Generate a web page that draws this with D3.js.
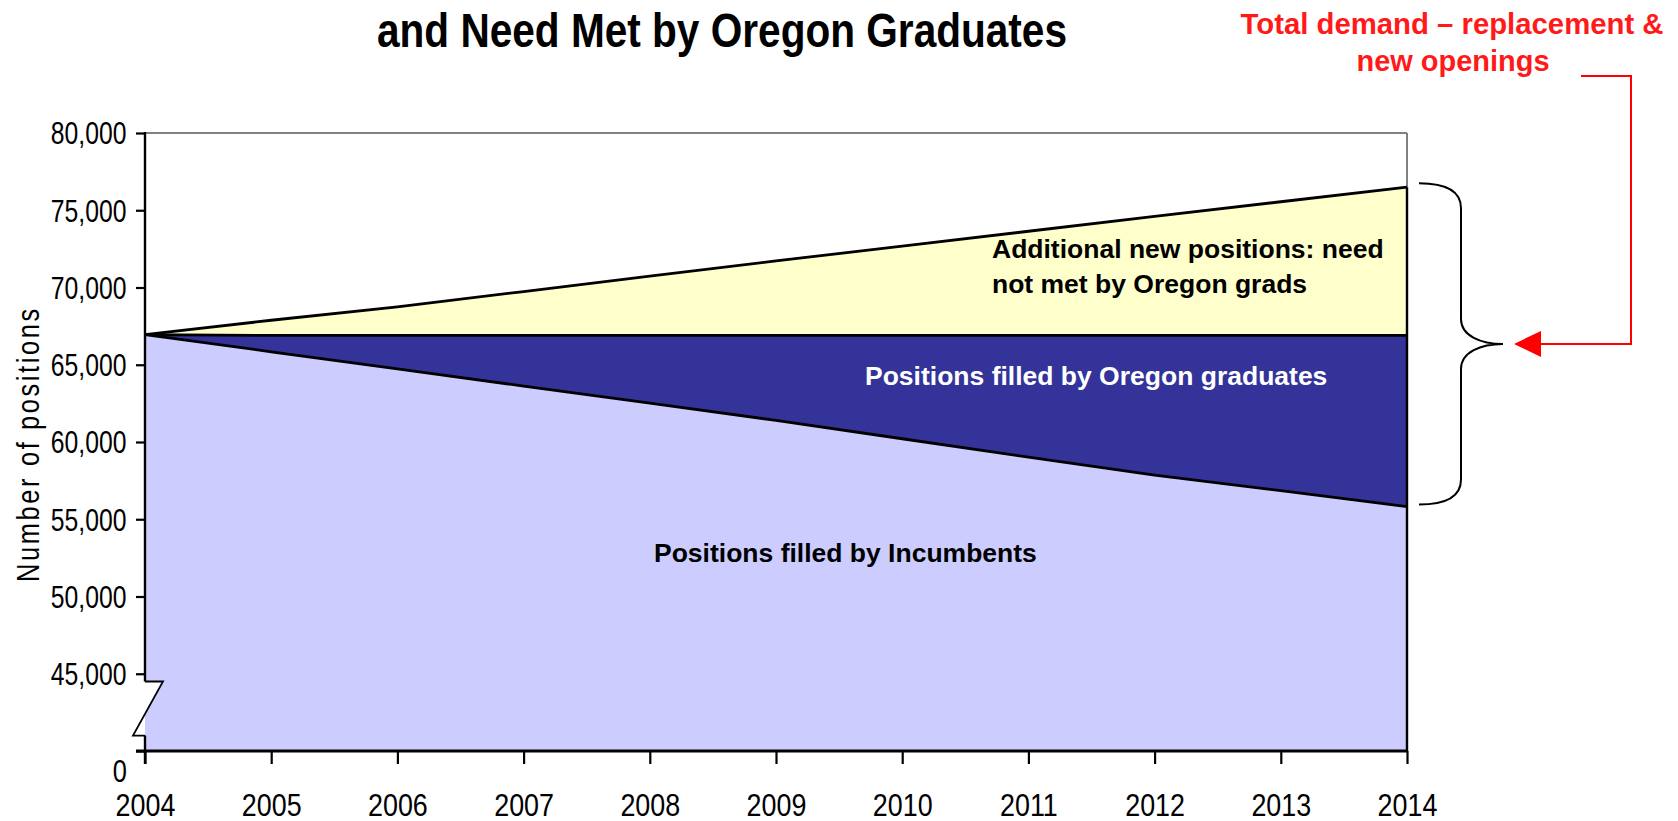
<!DOCTYPE html>
<html>
<head>
<meta charset="utf-8">
<script src="https://cdn.jsdelivr.net/npm/d3@7"></script>
<style>
  html, body { margin: 0; padding: 0; background: #fff; }
  svg { display: block; }
  text { font-family: "Liberation Sans", Arial, sans-serif; }
</style>
</head>
<body>
<svg id="chart" width="1678" height="821"></svg>
<script>
// ---- data ----
const years = [2004, 2005, 2006, 2007, 2008, 2009, 2010, 2011, 2012, 2013, 2014];
const totalDemand = [66950, 67880, 68750, 69740, 70730, 71720, 72680, 73640, 74600, 75550, 76490];
const filledTotal = [66950, 66900, 66900, 66900, 66900, 66900, 66900, 66900, 66900, 66900, 66900];
const incumbents = [66950, 65840, 64730, 63620, 62510, 61400, 60210, 59020, 57850, 56850, 55820];
const yTicks = [40000, 45000, 50000, 55000, 60000, 65000, 70000, 75000, 80000];
const yDomain = [40000, 80000];
const breakRange = [44500, 41000];
const titleText = "and Need Met by Oregon Graduates";
const yTitle = "Number of positions";
const noteLines = ["Total demand \u2013 replacement &", "new openings"];
const labelYellow = ["Additional new positions: need", "not met by Oregon grads"];
const labelNavy = "Positions filled by Oregon graduates";
const labelInc = "Positions filled by Incumbents";

const rows = years.map((yr, i) => ({year: yr, total: totalDemand[i], filled: filledTotal[i], inc: incumbents[i]}));

const svg = d3.select("#chart");
svg.append("rect").attr("width", 1678).attr("height", 821).attr("fill", "#fff");

const x = d3.scaleLinear().domain([years[0], years[years.length - 1]]).range([145, 1407]);
const y = d3.scaleLinear().domain(yDomain).range([751, 133]);
const x0 = x.range()[0], x1 = x.range()[1];
const yBase = y(yDomain[0]), yTop = y(yDomain[1]);

// title
svg.append("text").attr("x", 722).attr("y", 47).attr("text-anchor", "middle")
  .attr("font-size", 48).attr("font-weight", "bold").attr("fill", "#000")
  .attr("textLength", 690).attr("lengthAdjust", "spacingAndGlyphs").text(titleText);

// plot frame (gray top + right)
svg.append("line").attr("x1", x0).attr("x2", x1).attr("y1", yTop).attr("y2", yTop)
  .attr("stroke", "#808080").attr("stroke-width", 2);
svg.append("line").attr("x1", x1).attr("x2", x1).attr("y1", yTop).attr("y2", y(totalDemand[totalDemand.length - 1]))
  .attr("stroke", "#808080").attr("stroke-width", 2);

// areas
const aInc = d3.area().x(d => x(d.year)).y0(yBase).y1(d => y(d.inc));
const aNavy = d3.area().x(d => x(d.year)).y0(d => y(d.inc)).y1(d => y(d.filled));
const aYellow = d3.area().x(d => x(d.year)).y0(d => y(d.filled)).y1(d => y(d.total));
svg.append("path").datum(rows).attr("d", aInc).attr("fill", "#CCCCFF");
svg.append("path").datum(rows).attr("d", aNavy).attr("fill", "#333399");
svg.append("path").datum(rows).attr("d", aYellow).attr("fill", "#FFFFCC");

const lineOf = key => d3.line().x(d => x(d.year)).y(d => y(d[key]));
["total", "filled", "inc"].forEach(k => {
  svg.append("path").datum(rows).attr("d", lineOf(k)).attr("fill", "none")
    .attr("stroke", "#000").attr("stroke-width", 2.8).attr("stroke-linejoin", "round");
});
// right edge of the areas
svg.append("line").attr("x1", x1).attr("x2", x1)
  .attr("y1", y(totalDemand[totalDemand.length - 1])).attr("y2", yBase)
  .attr("stroke", "#000").attr("stroke-width", 2.4);

// y axis (ticks + labels) via d3 axis
const yAxis = d3.axisLeft(y).tickValues(yTicks).tickSize(9)
  .tickFormat(d => d === yDomain[0] ? "" : d3.format(",")(d));
const gy = svg.append("g").attr("transform", `translate(${x0},0)`).call(yAxis);
gy.select(".domain").remove();
gy.selectAll(".tick line").attr("stroke", "#000").attr("stroke-width", 2.2);
gy.selectAll(".tick text").attr("font-size", 30.5).attr("fill", "#000")
  .attr("font-family", "'Liberation Sans', Arial, sans-serif")
  .attr("transform", "scale(0.81,1)").attr("x", -23).attr("dy", "0.36em");

// "0" label for the broken axis
svg.append("text").attr("transform", "translate(127,782) scale(0.82,1)").attr("text-anchor", "end")
  .attr("font-size", 31).attr("fill", "#000").text("0");

// x axis
const xAxis = d3.axisBottom(x).tickValues(years).tickSize(13).tickFormat(d3.format("d"));
const gx = svg.append("g").attr("transform", `translate(0,${yBase})`).call(xAxis);
gx.select(".domain").remove();
gx.selectAll(".tick line").attr("stroke", "#000").attr("stroke-width", 2.2);
gx.selectAll(".tick text").attr("font-size", 32).attr("fill", "#000")
  .attr("font-family", "'Liberation Sans', Arial, sans-serif")
  .attr("transform", "scale(0.84,1)").attr("y", 65).attr("dy", 0);

// axis lines
svg.append("line").attr("x1", x0 - 9).attr("x2", x1).attr("y1", yBase).attr("y2", yBase)
  .attr("stroke", "#000").attr("stroke-width", 2.8);
svg.append("line").attr("x1", x0).attr("x2", x0).attr("y1", yTop - 1).attr("y2", y(breakRange[0]))
  .attr("stroke", "#000").attr("stroke-width", 2.4);
svg.append("line").attr("x1", x0).attr("x2", x0).attr("y1", y(breakRange[1])).attr("y2", yBase + 13)
  .attr("stroke", "#000").attr("stroke-width", 2.4);

// axis break marker
const bt = y(breakRange[0]), bb = y(breakRange[1]);
svg.append("path").attr("d", `M${x0},${bt} L${x0 + 18},${bt} L${x0 - 12},${bb} L${x0},${bb} Z`)
  .attr("fill", "#fff").attr("stroke", "none");
svg.append("path").attr("d", `M${x0},${bt} L${x0 + 18},${bt} L${x0 - 12},${bb} L${x0},${bb}`)
  .attr("fill", "none").attr("stroke", "#000").attr("stroke-width", 1.8);

// y title
svg.append("text").attr("transform", "translate(39,444) rotate(-90) scale(0.82,1)").attr("text-anchor", "middle")
  .attr("font-size", 31).attr("fill", "#000").attr("letter-spacing", 3.2).text(yTitle);

// area labels
const lbl = svg.append("g").attr("font-weight", "bold").attr("font-size", 26.5);
lbl.append("text").attr("x", 992).attr("y", 258).attr("fill", "#000").text(labelYellow[0]);
lbl.append("text").attr("x", 992).attr("y", 293).attr("fill", "#000").text(labelYellow[1]);
lbl.append("text").attr("x", 865).attr("y", 385).attr("fill", "#fff").text(labelNavy);
lbl.append("text").attr("x", 654).attr("y", 562).attr("fill", "#000").text(labelInc);

// brace
const bTop = y(totalDemand[totalDemand.length - 1]) - 4;
const bBot = y(incumbents[incumbents.length - 1]) - 2;
const bMid = (bTop + bBot) / 2;
const bx0 = 1419, bx1 = 1461, bx2 = 1503;
svg.append("path")
  .attr("d", `M${bx0},${bTop} C${bx0 + 28},${bTop} ${bx1},${bTop + 8} ${bx1},${bTop + 25} L${bx1},${bMid - 25} C${bx1},${bMid - 8} ${bx1 + 20},${bMid} ${bx2},${bMid} C${bx1 + 20},${bMid} ${bx1},${bMid + 8} ${bx1},${bMid + 25} L${bx1},${bBot - 25} C${bx1},${bBot - 8} ${bx0 + 28},${bBot} ${bx0},${bBot}`)
  .attr("fill", "none").attr("stroke", "#000").attr("stroke-width", 2);

// red annotation
svg.append("path").attr("d", `M1581,76 L1631,76 L1631,${bMid} L1538,${bMid}`)
  .attr("fill", "none").attr("stroke", "#FF0000").attr("stroke-width", 2);
svg.append("path").attr("d", `M1514,${bMid} L1541,${bMid - 13} L1541,${bMid + 13} Z`).attr("fill", "#FF0000");
const note = svg.append("g").attr("font-weight", "bold").attr("font-size", 30).attr("fill", "#FF1A1A").attr("text-anchor", "middle");
note.append("text").attr("x", 1452).attr("y", 34).attr("textLength", 423).attr("lengthAdjust", "spacingAndGlyphs").text(noteLines[0]);
note.append("text").attr("x", 1453).attr("y", 71).attr("textLength", 193).attr("lengthAdjust", "spacingAndGlyphs").text(noteLines[1]);
</script>
</body>
</html>
